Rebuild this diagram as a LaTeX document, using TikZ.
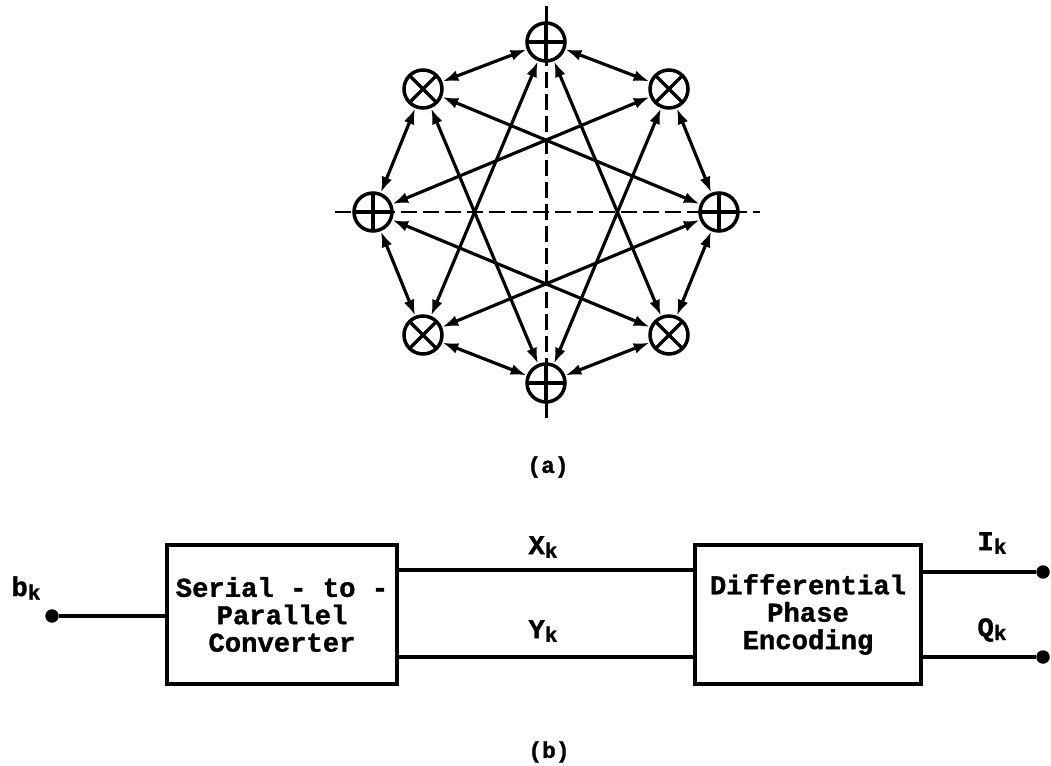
\documentclass[tikz,border=0pt]{standalone}
\usepackage{fontspec}
\setmonofont[BoldFeatures={FakeBold=1.2}]{Liberation Mono}
\usepackage{tikz}
\usetikzlibrary{arrows.meta,positioning}
\newcommand\blockfont{\ttfamily\bfseries\fontsize{15.5}{15.6}\selectfont}
\newcommand\capfont{\ttfamily\bfseries\fontsize{13}{13}\selectfont}
\newcommand\subk{\raisebox{-0.25ex}{\fontsize{12}{12}\selectfont k}}
\tikzset{
  sumnode/.style={circle,draw,fill=white,line width=2pt,minimum size=0.76cm,inner sep=0pt,
    path picture={\draw[line width=1.9pt] (path picture bounding box.north)--(path picture bounding box.south)
      (path picture bounding box.west)--(path picture bounding box.east);}},
  mulnode/.style={circle,draw,fill=white,line width=2pt,minimum size=0.76cm,inner sep=0pt,
    path picture={\draw[line width=1.9pt] (path picture bounding box.north west)--(path picture bounding box.south east)
      (path picture bounding box.north east)--(path picture bounding box.south west);}},
  linkarrow/.style={{Latex[length=0.32cm,width=0.22cm]}-{Latex[length=0.32cm,width=0.22cm]},line width=1.8pt},
  axisline/.style={line width=1.7pt,dash pattern=on 0.32cm off 0.12cm},
  blockbox/.style={draw,line width=2.2pt,minimum width=4.6cm,minimum height=2.78cm,align=center,font=\blockfont},
  wireline/.style={line width=2.2pt},
  termdot/.style={circle,fill,inner sep=0pt,minimum size=0.27cm},
  siglabel/.style={font=\blockfont,inner sep=1pt},
  caption/.style={font=\capfont}
}
\begin{document}
\begin{tikzpicture}[x=0.02cm,y=-0.02cm]
  \useasboundingbox (0,0) rectangle (1051,766);
  % axes of the constellation
  \coordinate (axl) at (335,212);
  \coordinate (axr) at (760,212);
  \coordinate (axt) at (546,6);
  \coordinate (axb) at (546,420);
  \draw[axisline] (axl)--(axr);
  \draw[axisline] (axt)--(axb);
  % constellation points
  \node[sumnode] (p0) at (719,212) {};
  \node[mulnode] (x1) at (669,89) {};
  \node[sumnode] (p2) at (546,42) {};
  \node[mulnode] (x3) at (423,89) {};
  \node[sumnode] (p4) at (373,212) {};
  \node[mulnode] (x5) at (423,335) {};
  \node[sumnode] (p6) at (546,383) {};
  \node[mulnode] (x7) at (669,335) {};
  % neighbours
  \draw[linkarrow] (p0)--(x1);
  \draw[linkarrow] (x1)--(p2);
  \draw[linkarrow] (p2)--(x3);
  \draw[linkarrow] (x3)--(p4);
  \draw[linkarrow] (p4)--(x5);
  \draw[linkarrow] (x5)--(p6);
  \draw[linkarrow] (p6)--(x7);
  \draw[linkarrow] (x7)--(p0);
  % three steps apart
  \draw[linkarrow] (p0)--(x3);
  \draw[linkarrow] (x1)--(p4);
  \draw[linkarrow] (p2)--(x5);
  \draw[linkarrow] (x3)--(p6);
  \draw[linkarrow] (p4)--(x7);
  \draw[linkarrow] (x5)--(p0);
  \draw[linkarrow] (p6)--(x1);
  \draw[linkarrow] (x7)--(p2);
  \node[caption] (capa) at (548,467) {(a)};
  % encoder
  \node[blockbox] (sp) at (282,614.5) {Serial - to -\\Parallel\\Converter};
  \node[blockbox,minimum width=4.52cm] (dpe) at (808,614.5) {Differential\\Phase\\Encoding};
  \node[termdot] (bdot) at (52,616) {};
  \node[termdot] (idot) at (1043,572) {};
  \node[termdot] (qdot) at (1043,657) {};
  \draw[wireline] (bdot)--(sp.west |- bdot);
  \draw[wireline] ([yshift=0.89cm]sp.east)--([yshift=0.89cm]dpe.west);
  \draw[wireline] ([yshift=-0.85cm]sp.east)--([yshift=-0.85cm]dpe.west);
  \draw[wireline] (dpe.east |- idot)--(idot);
  \draw[wireline] (dpe.east |- qdot)--(qdot);
  \node[siglabel] (bk) at (26,588) {b\subk};
  \node[siglabel] (xk) at (543,547) {X\subk};
  \node[siglabel] (yk) at (543,631) {Y\subk};
  \node[siglabel] (ik) at (992,543) {I\subk};
  \node[siglabel] (qk) at (992,630) {Q\subk};
  \node[caption] (capb) at (549,752) {(b)};
\end{tikzpicture}
\end{document}
